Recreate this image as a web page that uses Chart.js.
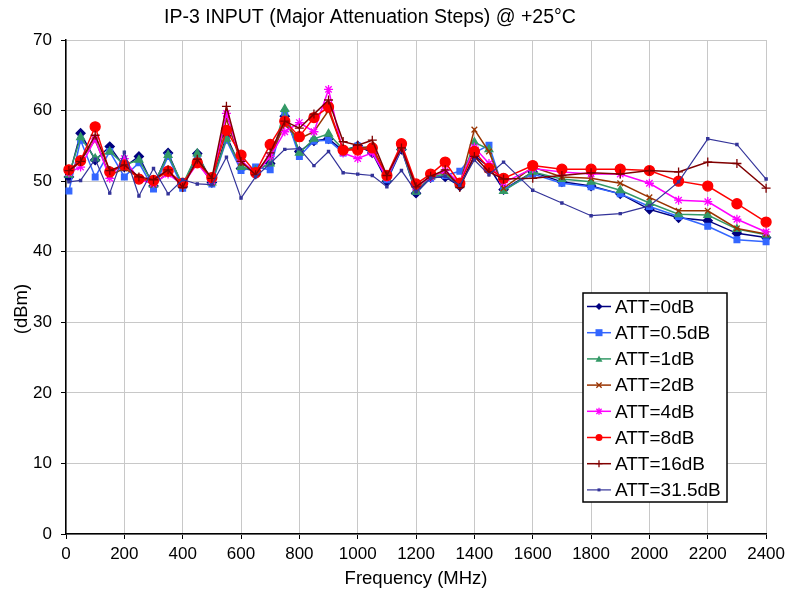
<!DOCTYPE html>
<html>
<head>
<meta charset="utf-8">
<script src="https://cdn.jsdelivr.net/npm/chart.js@4/dist/chart.umd.min.js"></script>
<style>
	body{ margin:0; background:#fff; }
	#wrap{ width:790px; height:594px; }
</style>
</head>
<body>
<div id="wrap"><canvas id="c" width="790" height="594"></canvas></div>
<script>
// Frequency points (MHz)
var freq = [10,50,100,150,200,250,300,350,400,450,500,550,600,650,
	700,750,800,850,900,950,1000,1050,1100,1150,
	1200,1250,1300,1350,1400,1450,1500,
	1600,1700,1800,1900,2000,2100,2200,2300,2400];

// IP3 (dBm) per attenuation state
var att0   = [50.6,56.8,53.0,54.9,52.0,53.5,49.3,54.0,49.2,53.9,49.8,56.4,51.8,51.5,
	52.5,59.2,54.2,55.7,56.0,54.3,55.0,54.0,50.0,54.5,
	48.3,50.5,50.6,49.3,53.6,52.0,48.8,
	51.3,49.9,49.3,48.2,46.0,44.8,44.4,42.6,42.0];
var att05  = [48.6,55.8,50.6,54.2,50.6,52.6,48.9,53.5,49.0,53.4,49.6,55.8,51.5,52.0,
	51.6,59.7,53.5,55.7,55.8,54.0,55.0,54.5,50.2,54.6,
	48.6,50.4,50.8,51.4,54.0,55.1,48.8,
	51.0,49.7,49.2,48.2,46.4,45.0,43.6,41.7,41.4];
var att1   = [50.9,56.2,53.2,54.2,52.3,53.0,49.5,53.7,49.5,53.9,49.8,56.0,52.0,51.5,
	52.5,60.2,54.0,56.0,56.7,54.5,54.8,54.5,50.4,54.8,
	48.5,50.6,51.0,49.5,55.5,54.5,48.6,
	51.3,50.3,49.9,48.7,46.9,45.3,45.2,43.2,42.4];
var att2   = [51.2,53.0,55.8,50.8,51.8,50.5,49.5,51.2,49.4,52.8,49.8,58.8,52.6,51.3,
	53.5,58.0,56.0,57.0,60.0,54.5,54.6,55.0,50.5,55.0,
	49.0,50.8,51.3,49.5,57.3,54.2,49.0,
	52.0,50.6,50.4,49.7,47.7,45.8,45.8,43.3,42.5];
var att4   = [51.2,52.0,56.0,50.4,53.2,50.2,49.7,51.0,49.5,52.5,50.0,59.6,53.0,51.0,
	53.5,57.0,58.3,57.0,63.0,54.0,53.2,54.0,50.5,54.8,
	49.2,50.6,51.5,49.8,54.8,52.5,49.8,
	51.8,51.3,51.0,51.0,49.7,47.3,47.1,44.6,42.8];
var att8   = [51.6,52.9,57.7,51.3,52.3,50.3,50.1,51.4,49.7,52.6,50.5,57.2,53.7,51.2,
	55.2,58.5,56.3,59.0,60.5,54.4,54.4,54.7,50.8,55.3,
	49.6,51.0,52.7,49.7,54.2,51.8,50.4,
	52.2,51.7,51.7,51.7,51.5,50.0,49.3,46.8,44.2];
var att16  = [51.5,52.8,56.5,51.5,52.3,50.6,50.2,51.6,49.1,53.1,50.4,60.6,52.8,50.9,
	54.0,58.5,57.5,59.5,61.5,55.6,55.1,55.8,50.8,54.7,
	49.2,50.7,51.6,49.1,53.5,51.3,50.3,
	50.4,50.8,51.2,51.0,51.5,51.3,52.7,52.5,49.0];
var att315 = [49.9,50.1,53.1,48.3,54.1,47.9,51.8,48.2,50.2,49.6,49.5,53.4,47.6,50.6,
	52.5,54.5,54.6,52.2,54.2,51.2,51.0,50.8,49.2,51.5,
	48.5,50.4,50.7,49.4,53.0,50.9,52.7,
	48.7,46.9,45.1,45.4,46.5,49.9,56.0,55.2,50.3];

var seriesNames = ['ATT=0dB','ATT=0.5dB','ATT=1dB','ATT=2dB','ATT=4dB','ATT=8dB','ATT=16dB','ATT=31.5dB'];
var xTicks = [0,200,400,600,800,1000,1200,1400,1600,1800,2000,2200,2400];
var yTicks = [0,10,20,30,40,50,60,70];

var FONT = "'Liberation Sans', Arial, sans-serif";

// look of each series: colour, marker, marker radius, line width
var looks = [
	{ c:'#000080', p:'rectRot',  r:4.5, w:1.5 },
	{ c:'#3366FF', p:'rect',     r:4,   w:1.5 },
	{ c:'#339966', p:'triangle', r:4.5, w:1.5 },
	{ c:'#993300', p:'crossRot', r:4,   w:1.5 },
	{ c:'#FF00FF', p:'star',     r:4.5, w:1.5 },
	{ c:'#FF0000', p:'circle',   r:5,   w:1.5 },
	{ c:'#800000', p:'cross',    r:4.5, w:1.5 },
	{ c:'#333399', p:'rect',     r:1.5, w:1.2 }
];

function pts(arr){
	var out = [];
	for( var i = 0; i < freq.length; i++ ) out.push( { x: freq[i], y: arr[i] } );
	return out;
}

var allSeries = [att0, att05, att1, att2, att4, att8, att16, att315];
var datasets = [];
for( var i = 0; i < allSeries.length; i++ ){
	var l = looks[i];
	datasets.push({
		label: seriesNames[i],
		data: pts( allSeries[i] ),
		borderColor: l.c,
		backgroundColor: l.c,
		borderWidth: l.w,
		pointStyle: l.p,
		pointRadius: l.r,
		pointBorderWidth: 1.3,
		pointBackgroundColor: l.c,
		pointBorderColor: l.c,
		tension: 0,
		clip: false,
		order: -i // later series drawn on top, like the original
	});
}

// small marker painter for the legend box
function mark( ctx, style, x, y, r, col ){
	ctx.save();
	ctx.fillStyle = col; ctx.strokeStyle = col; ctx.lineWidth = 1.3;
	ctx.beginPath();
	if( style == 'circle' ){ ctx.arc( x, y, r, 0, Math.PI*2 ); ctx.fill(); }
	else if( style == 'rect' ){ ctx.fillRect( x-r, y-r, 2*r, 2*r ); }
	else if( style == 'rectRot' ){ ctx.moveTo(x, y-r); ctx.lineTo(x+r, y); ctx.lineTo(x, y+r); ctx.lineTo(x-r, y); ctx.closePath(); ctx.fill(); }
	else if( style == 'triangle' ){ ctx.moveTo(x, y-r); ctx.lineTo(x+r, y+r*0.8); ctx.lineTo(x-r, y+r*0.8); ctx.closePath(); ctx.fill(); }
	else {
		var d = r*0.75;
		if( style == 'cross' || style == 'star' ){ ctx.moveTo(x-r, y); ctx.lineTo(x+r, y); ctx.moveTo(x, y-r); ctx.lineTo(x, y+r); }
		if( style == 'crossRot' || style == 'star' ){ ctx.moveTo(x-d, y-d); ctx.lineTo(x+d, y+d); ctx.moveTo(x+d, y-d); ctx.lineTo(x-d, y+d); }
		ctx.stroke();
	}
	ctx.restore();
}

// title, axis titles and the boxed legend
var decor = {
	id: 'decor',
	afterDraw: function( chart ){
		var ctx = chart.ctx, a = chart.chartArea;
		ctx.save();
		ctx.fillStyle = '#000';
		ctx.textAlign = 'center'; ctx.textBaseline = 'middle';
		ctx.font = '19.5px ' + FONT;
		ctx.fillText( 'IP-3 INPUT (Major Attenuation Steps) @ +25°C', 370, 18 );
		ctx.font = '18.5px ' + FONT;
		ctx.fillText( 'Frequency (MHz)', (a.left + a.right)/2, 579 );
		ctx.save();
		ctx.translate( 22, 309 ); ctx.rotate( -Math.PI/2 );
		ctx.fillText( '(dBm)', 0, 0 );
		ctx.restore();

		// legend
		var bx = 583, by = 293, bw = 144, bh = 209;
		ctx.fillStyle = '#fff'; ctx.fillRect( bx, by, bw, bh );
		ctx.strokeStyle = '#000'; ctx.lineWidth = 1.5; ctx.strokeRect( bx, by, bw, bh );
		ctx.font = '19px ' + FONT; ctx.textAlign = 'left';
		for( var i = 0; i < seriesNames.length; i++ ){
			var y = 306.5 + i*26.2, l = looks[i];
			ctx.strokeStyle = l.c; ctx.lineWidth = l.w;
			ctx.beginPath(); ctx.moveTo( 587, y ); ctx.lineTo( 611, y ); ctx.stroke();
			mark( ctx, l.p, 599, y, Math.min( l.r, 3.5 ), l.c );
			ctx.fillStyle = '#000';
			ctx.fillText( seriesNames[i], 615, y + 1 );
		}
		ctx.restore();
	}
};

new Chart( document.getElementById('c').getContext('2d'), {
	type: 'line',
	data: { datasets: datasets },
	options: {
		responsive: false,
		animation: false,
		layout: { padding: { top: 40, right: 23, left: 0, bottom: 0 } },
		plugins: { legend: { display: false }, title: { display: false }, tooltip: { enabled: false } },
		scales: {
			x: {
				type: 'linear', min: 0, max: 2400,
				afterBuildTicks: function( s ){ s.ticks = xTicks.map( function(v){ return { value: v }; } ); },
				afterFit: function( s ){ s.height = 60; },
				ticks: { color: '#000', font: { family: FONT, size: 17 }, padding: 5, maxRotation: 0, autoSkip: false,
					callback: function( v ){ return String( v ); } },
				grid: { color: '#c8c8c8', tickColor: '#000', tickLength: 5, lineWidth: 1 },
				border: { color: '#000', width: 1.5 }
			},
			y: {
				min: 0, max: 70,
				afterBuildTicks: function( s ){ s.ticks = yTicks.map( function(v){ return { value: v }; } ); },
				afterFit: function( s ){ s.width = 66; },
				ticks: { color: '#000', font: { family: FONT, size: 17 }, padding: 9,
					callback: function( v ){ return String( v ); } },
				grid: { color: '#c8c8c8', tickColor: '#000', tickLength: 5, lineWidth: 1 },
				border: { color: '#000', width: 1.5 }
			}
		}
	},
	plugins: [decor]
});
</script>
</body>
</html>
